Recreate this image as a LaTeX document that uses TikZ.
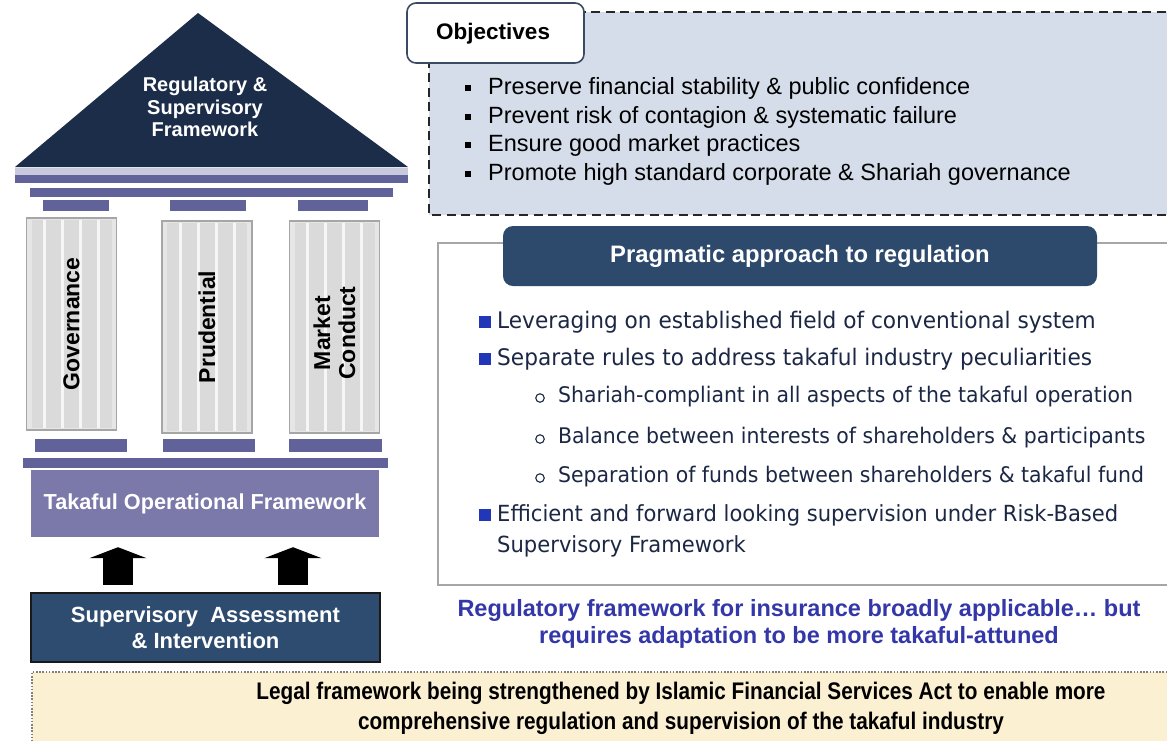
\documentclass[tikz,border=0pt]{standalone}
\usepackage{fontspec}
\setmainfont{Liberation Sans}
\newfontfamily\narrowfont[FakeStretch=0.865]{Liberation Sans}
\newfontfamily\tahfont[FakeStretch=0.95]{DejaVu Sans}
\usetikzlibrary{arrows.meta}
\definecolor{roofc}{HTML}{1C2D4A}
\definecolor{bandc}{HTML}{62629A}
\definecolor{bandl}{HTML}{C9C9DD}
\definecolor{takc}{HTML}{7B78AA}
\definecolor{colfill}{HTML}{E6E6E6}
\definecolor{colin}{HTML}{DADADA}
\definecolor{colborder}{HTML}{A6A6A6}
\definecolor{supc}{HTML}{2E4B70}
\definecolor{objfill}{HTML}{D5DDEA}
\definecolor{objborder}{HTML}{3B4A64}
\definecolor{pragc}{HTML}{2D4A6D}
\definecolor{bluesq}{HTML}{2236B8}
\definecolor{pragtext}{HTML}{1B2744}
\definecolor{bluetext}{HTML}{3437A8}
\definecolor{beige}{HTML}{FCF0D2}
\newcommand\fsz[2]{\fontsize{#1}{#2}\selectfont}
\begin{document}
\begin{tikzpicture}[x=1pt,y=-1pt,
  column/.style={draw=colborder, fill=colfill, line width=1.2pt, minimum width=90pt, minimum height=212pt, inner sep=0},
  collabel/.style={rotate=90, align=center, font=\bfseries\fsz{23}{25}, inner sep=0},
  whitebold/.style={text=white, align=center, font=\bfseries\fsz{20}{24}, inner sep=0},
  objitem/.style={anchor=west, inner sep=0, font=\fsz{23.5}{28}},
  osq/.style={fill=black, inner sep=0, minimum width=5.5pt, minimum height=6.5pt},
  pitem/.style={anchor=west, inner sep=0, text=pragtext, font=\tahfont\fsz{22.8}{27}},
  psub/.style={anchor=west, inner sep=0, text=pragtext, font=\tahfont\fsz{21.5}{27}},
  psq/.style={fill=bluesq, inner sep=0, minimum size=12pt},
  pcirc/.style={circle, draw=pragtext, line width=1.1pt, inner sep=0, minimum size=8.5pt},
  blockarrow/.style={line width=30pt, draw=black, -{Triangle[length=11pt,width=57pt]}}
]
\fill[white] (0,0) rectangle (1167,740);
\useasboundingbox (0,0) rectangle (1167,740);

% ---------- temple ----------
\fill[roofc] (15,167) -- (198,13) -- (408,167) -- cycle;
\node[whitebold, font=\bfseries\fsz{20}{22.5}] (roof) at (205,107) {Regulatory \&\\Supervisory\\Framework};

\fill[bandl] (15,168) rectangle (408,175);
\fill[bandc] (15,175) rectangle (408,183);
\fill[bandc] (30,188) rectangle (393,197);
\fill[bandc] (43,200) rectangle (109,211);
\fill[bandc] (170,200) rectangle (246,211);
\fill[bandc] (298,200) rectangle (368,211);

\node[column] (gov) at (71.5,324) {};
\node[column] (pru) at (207,327) {};
\node[column] (mkt) at (334.5,327) {};
\foreach \c/\t/\b in {gov/220/428, pru/223/431, mkt/223/431}{
  \fill[colin] ([xshift=-40pt]\c.center |- 0,\t) rectangle ([xshift=40pt]\c.center |- 0,\b);
  \foreach \k in {-27,-9,9,27}{
    \draw[white!75!colin, line width=3pt] ([xshift=\k pt]\c.center |- 0,\t) -- ([xshift=\k pt]\c.center |- 0,\b);
  }
}
\node[collabel] (govl) at (gov) {Governance};
\node[collabel] (prul) at (pru) {Prudential};
\node[collabel] (mktl) at ([yshift=-6pt]mkt.center) {Market\\Conduct};

\fill[bandc] (35,439) rectangle (127,452);
\fill[bandc] (163,439) rectangle (255,452);
\fill[bandc] (289,439) rectangle (382,452);
\fill[bandc] (23,458) rectangle (388,468);

\node[fill=takc, minimum width=348pt, minimum height=67pt, inner sep=0] (tak) at (205,503.5) {};
\node[whitebold, font=\bfseries\fsz{21.7}{24}] (takl) at (tak) {Takaful Operational Framework};

\node[fill=supc, draw=black!90, line width=2.5pt, minimum width=349pt, minimum height=69pt, inner sep=0] (sup) at (205.5,627.5) {};
\node[whitebold, font=\bfseries\fsz{22}{26.5}] (supl) at (sup) {Supervisory\ \ Assessment\\\& Intervention};

\coordinate (ax1) at (118,0);
\coordinate (ax2) at (293,0);
\draw[blockarrow, shorten <=7pt, shorten >=10pt] (sup.north -| ax1) -- (tak.south -| ax1);
\draw[blockarrow, shorten <=7pt, shorten >=10pt] (sup.north -| ax2) -- (tak.south -| ax2);

% ---------- objectives ----------
\fill[objfill] (429,12) rectangle (1180,215);
\draw[draw=black!85, line width=2.4pt, dash pattern=on 9pt off 5.5pt] (1180,12) -- (429,12) -- (429,215) -- (1180,215);
\node[draw=objborder, fill=white, line width=1.6pt, rounded corners=9pt, minimum width=177pt, minimum height=60pt, inner sep=0] (obj) at (495.5,33) {};
\node[anchor=west, inner sep=0, font=\bfseries\fsz{22.5}{26}] (objl) at (436,34) {Objectives};

\node[osq] (ob1) at (468,88) {};
\node[objitem] (ot1) at (488,88) {Preserve financial stability \& public confidence};
\node[osq] (ob2) at (468,117) {};
\node[objitem] (ot2) at (488,117) {Prevent risk of contagion \& systematic failure};
\node[osq] (ob3) at (468,145) {};
\node[objitem] (ot3) at (488,145) {Ensure good market practices};
\node[osq] (ob4) at (468,174) {};
\node[objitem] (ot4) at (488,174) {Promote high standard corporate \& Shariah governance};

% ---------- pragmatic ----------
\fill[white] (438,243) rectangle (1180,585);
\draw[draw=black!35, line width=1.5pt] (1180,243) -- (438,243) -- (438,585) -- (1180,585);
\node[fill=pragc, rounded corners=10pt, minimum width=594pt, minimum height=60pt, inner sep=0] (prag) at (800,256) {};
\node[whitebold, font=\bfseries\fsz{23.8}{26}] (pragl) at (prag) {Pragmatic approach to regulation};

\node[psq] (pb1) at (484.5,322) {};
\node[pitem] (pt1) at (497,322) {Leveraging on established field of conventional system};
\node[psq] (pb2) at (484.5,359) {};
\node[pitem] (pt2) at (497,359) {Separate rules to address takaful industry peculiarities};
\node[pcirc] (pc1) at (540,398) {};
\node[psub] (pt3) at (558,397) {Shariah-compliant in all aspects of the takaful operation};
\node[pcirc] (pc2) at (540,439) {};
\node[psub] (pt4) at (558,438) {Balance between interests of shareholders \& participants};
\node[pcirc] (pc3) at (540,478) {};
\node[psub] (pt5) at (558,477) {Separation of funds between shareholders \& takaful fund};
\node[psq] (pb3) at (484.5,515) {};
\node[pitem, font=\tahfont\fsz{22.2}{27}] (pt6) at (497,515) {Efficient and forward looking supervision under Risk-Based};
\node[pitem, font=\tahfont\fsz{22.2}{27}] (pt7) at (497,546) {Supervisory Framework};

\node[text=bluetext, align=center, inner sep=0, font=\bfseries\fsz{23.5}{27}] (blue) at (799,624) {Regulatory framework for insurance broadly applicable\dots\ but\\requires adaptation to be more takaful-attuned};

% ---------- legal ----------
\fill[beige] (32,672) rectangle (1180,750);
\draw[draw=black!50, line width=1.6pt, dash pattern=on 1.6pt off 1.6pt] (1180,672) -- (32,672) -- (32,750);
\node[align=center, inner sep=0, font=\narrowfont\bfseries\fsz{24}{30}] (legal) at (681,708) {Legal framework being strengthened by Islamic Financial Services Act to enable more\\comprehensive regulation and supervision of the takaful industry};
\end{tikzpicture}
\end{document}
